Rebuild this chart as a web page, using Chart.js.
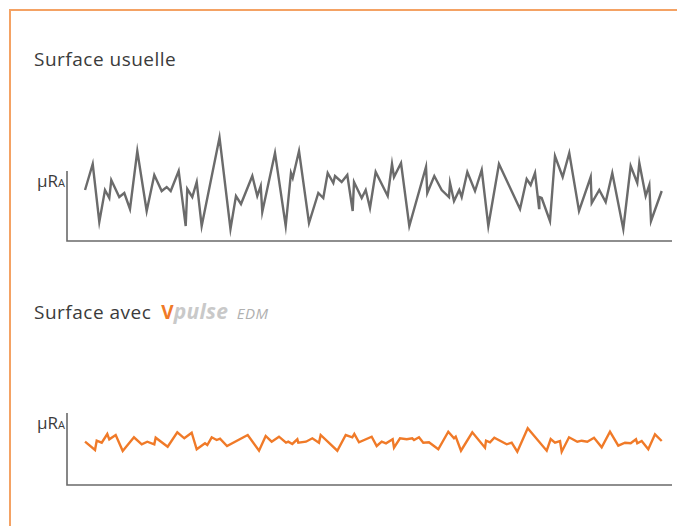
<!DOCTYPE html>
<html>
<head>
<meta charset="utf-8">
<script src="https://cdn.jsdelivr.net/npm/chart.js@4/dist/chart.umd.min.js"></script>
<style>
  html, body { margin: 0; padding: 0; background: #fff; }
  body { width: 677px; height: 526px; position: relative; overflow: hidden; font-family: "Open Sans", "Noto Sans", sans-serif; }
  .frame { position: absolute; left: 9px; top: 9px; width: 700px; height: 600px; border-top: 2px solid #f4a264; border-left: 2px solid #f4a264; }
  .title { position: absolute; left: 34px; font-size: 19px; color: #3b3b3b; white-space: nowrap; letter-spacing: 0.5px; }
  .v { color: #f07a28; font-weight: bold; margin-left: 10px; letter-spacing: 0; }
  .pulse { color: #c9c9c9; font-weight: bold; font-style: italic; font-size: 21px; letter-spacing: 0.3px; }
  .edm { color: #b0b0b0; font-style: italic; font-size: 15px; margin-left: 3px; }
  .unit { position: absolute; left: 37px; font-size: 17px; color: #3b3b3b; }
  .unit small { font-size: 11px; }
  canvas { position: absolute; }
</style>
</head>
<body>
<div class="frame"></div>
<div class="title" style="top:46px">Surface usuelle</div>
<div class="unit" style="top:169px">µR<small>A</small></div>
<div class="title" style="top:297px">Surface avec<span class="v">V</span><span class="pulse">pulse</span> <span class="edm">EDM</span></div>
<div class="unit" style="top:411px">µR<small>A</small></div>
<div style="position:absolute;left:57px;top:121px;width:625px;height:130px"><canvas id="top"></canvas></div>
<div style="position:absolute;left:57px;top:365px;width:625px;height:130px"><canvas id="bottom"></canvas></div>
<script>
// profile position (0-100 along the axis) and height, usual surface
var topPos = [2.98, 4.25, 5.34, 6.28, 6.99, 7.32, 8.64, 9.47, 10.41, 11.62, 13.17, 14.43, 15.65, 16.48, 17.14, 18.46,
  19.62, 19.88, 20.71, 21.44, 22.26, 25.21, 27.02, 27.93, 28.76, 30.63, 31.45, 32.02, 32.28, 34.38, 36.15, 37.02,
  37.31, 38.35, 40.00, 41.54, 42.36, 43.09, 44.02, 44.30, 45.40, 46.33, 47.22, 47.44, 48.71, 49.37, 50.08, 51.02,
  53.01, 53.72, 54.05, 55.21, 56.58, 59.34, 59.55, 60.71, 61.93, 63.14, 63.31, 63.97, 64.84, 65.24, 66.17, 67.44,
  68.55, 69.64, 71.40, 74.88, 75.98, 76.64, 77.36, 78.02, 78.07, 78.46, 79.83, 80.66, 81.93, 83.02, 84.63, 86.56,
  86.73, 87.98, 89.04, 90.13, 91.95, 93.17, 94.26, 94.60, 95.65, 96.25, 96.53, 98.30];
var topHeight = [5.1, 7.7, 1.9, 5.1, 4.3, 6.1, 4.4, 4.8, 3.2, 9.0, 3.0, 6.6, 5.0, 5.4, 5.0, 7.0,
  1.5, 5.2, 4.4, 5.9, 1.5, 10.35, 1.2, 4.5, 3.7, 6.5, 4.5, 5.5, 2.9, 8.8, 1.5, 6.8,
  6.3, 9.0, 1.8, 4.8, 4.3, 6.8, 5.8, 6.5, 5.9, 6.6, 3.0, 5.9, 4.3, 5.1, 3.3, 6.9,
  4.5, 7.7, 6.4, 7.8, 1.5, 7.4, 4.8, 6.5, 5.1, 4.4, 5.8, 4.0, 5.1, 4.4, 6.9, 5.0,
  7.1, 1.5, 7.7, 3.2, 6.2, 5.6, 6.8, 3.3, 4.4, 4.3, 2.0, 8.5, 6.4, 8.8, 3.0, 6.4,
  3.8, 5.1, 3.9, 6.8, 1.2, 7.5, 5.8, 7.8, 4.5, 5.6, 2.0, 5.0];

// Vpulse EDM surface
var bottomPos = [2.98, 4.63, 4.91, 5.74, 6.66, 6.99, 8.05, 9.21, 11.07, 12.35, 13.27, 14.43, 14.66, 16.64, 18.23, 19.39,
  20.61, 21.44, 22.81, 23.19, 23.92, 24.74, 25.29, 26.45, 29.87, 31.74, 32.84, 33.83, 35.04, 36.20, 36.58, 37.24,
  38.07, 38.23, 39.50, 40.55, 41.65, 41.93, 44.68, 46.07, 47.16, 47.49, 48.26, 50.36, 51.19, 52.02, 52.73, 53.83,
  54.05, 55.04, 56.15, 57.07, 57.36, 58.18, 58.89, 59.83, 61.37, 63.02, 63.97, 64.25, 65.12, 66.99, 69.09, 69.26,
  69.92, 70.63, 72.68, 73.50, 74.43, 76.15, 79.29, 79.95, 80.66, 81.49, 81.77, 82.98, 84.35, 85.07, 86.00, 87.11,
  88.38, 89.75, 91.12, 92.23, 93.17, 94.05, 94.26, 94.99, 96.08, 97.19, 98.30];
var bottomHeight = [4.33, 3.5, 4.43, 4.23, 5.1, 4.57, 5.0, 3.4, 4.77, 4.07, 4.33, 4.07, 4.73, 3.83, 5.27, 4.67,
  5.23, 3.57, 4.17, 4.0, 4.77, 4.5, 4.63, 3.9, 5.0, 3.43, 4.9, 4.33, 4.83, 4.23, 4.33, 4.1,
  4.57, 4.23, 4.33, 4.67, 4.23, 5.0, 3.43, 5.0, 4.77, 5.1, 4.27, 4.83, 3.9, 4.33, 4.17, 4.57,
  3.73, 4.67, 4.57, 4.67, 4.5, 4.77, 4.23, 4.27, 3.57, 5.33, 4.67, 4.83, 3.43, 5.27, 3.73, 4.43,
  4.27, 4.73, 4.07, 4.23, 3.33, 5.67, 3.43, 4.6, 4.23, 4.4, 3.33, 4.77, 4.33, 4.43, 4.33, 4.73,
  3.77, 5.33, 3.93, 4.23, 4.17, 4.57, 4.17, 4.4, 3.57, 5.07, 4.4];

var yAxisTop = { top: 7.0, bottom: 7.2 };

var axesPlugin = {
  id: 'shortAxes',
  afterDraw: function(chart) {
    var ctx = chart.ctx, area = chart.chartArea;
    var y0 = chart.scales.y.getPixelForValue(0);
    var y1 = chart.scales.y.getPixelForValue(chart.options.plugins.shortAxes.top);
    ctx.save();
    ctx.strokeStyle = '#6a6a6a';
    ctx.lineWidth = 1.6;
    ctx.beginPath();
    ctx.moveTo(area.left, y1);
    ctx.lineTo(area.left, y0);
    ctx.lineTo(area.right, y0);
    ctx.stroke();
    ctx.restore();
  }
};

function makeChart(id, xs, ys, color, axisTop) {
  return new Chart(document.getElementById(id), {
    type: 'line',
    data: {
      datasets: [{
        data: xs.map(function(x, i) { return { x: x, y: ys[i] }; }),
        borderColor: color,
        borderWidth: 2.4,
        pointRadius: 0,
        tension: 0,
        clip: false
      }]
    },
    options: {
      responsive: true,
      maintainAspectRatio: false,
      animation: false,
      layout: { padding: 10 },
      plugins: { legend: { display: false }, tooltip: { enabled: false }, shortAxes: { top: axisTop } },
      scales: {
        x: { type: 'linear', min: 0, max: 100, display: false },
        y: { min: 0, max: 11, display: false }
      }
    },
    plugins: [axesPlugin]
  });
}

makeChart('top', topPos, topHeight, '#6b6b6b', yAxisTop.top);
makeChart('bottom', bottomPos, bottomHeight, '#f07a28', yAxisTop.bottom);
</script>
</body>
</html>
